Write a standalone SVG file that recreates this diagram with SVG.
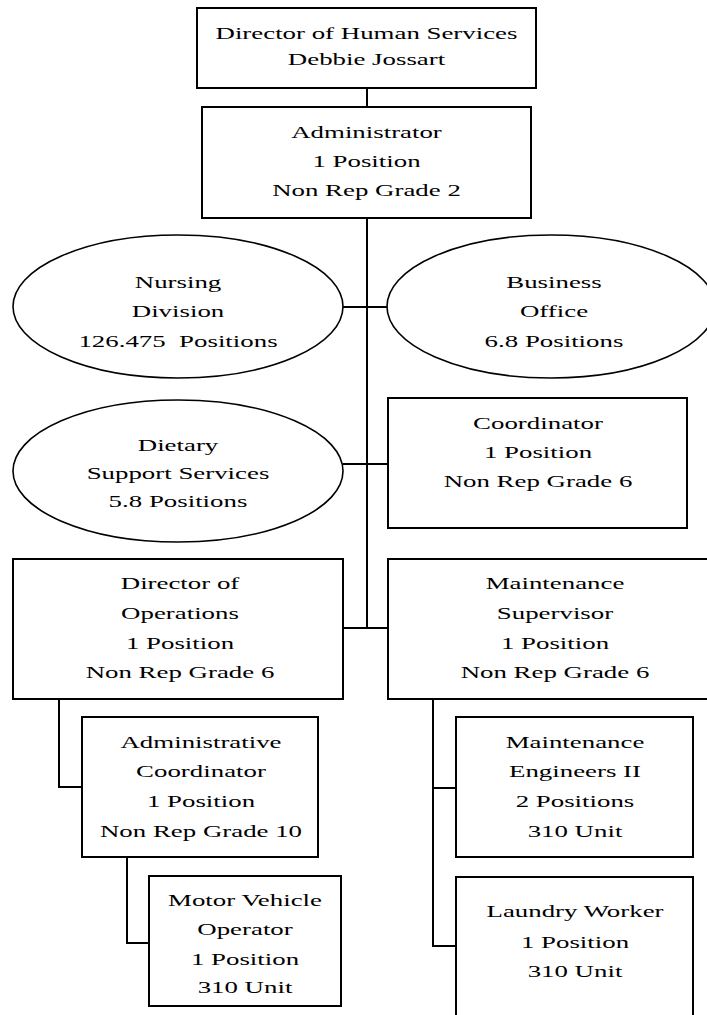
<svg xmlns="http://www.w3.org/2000/svg" width="707" height="1015" viewBox="0 0 707 1015">
  <style>
    .box { fill: #fff; stroke: #000; stroke-width: 2; }
    .oval { fill: #fff; stroke: #000; stroke-width: 1.6; }
    .wire { fill: none; stroke: #000; stroke-width: 2; }
    text { font-family: "Liberation Serif", "Times New Roman", serif; font-size: 17px; fill: #000; text-anchor: middle; }
  </style>
  <rect width="707" height="1015" fill="#fff"/>

  <!-- reporting lines -->
  <g id="connectors">
    <path class="wire" d="M367 88 V107"/>
    <path class="wire" d="M367 218 V628"/>
    <path class="wire" d="M343 307 H387"/>
    <path class="wire" d="M343 464 H388"/>
    <path class="wire" d="M343 628 H388"/>
    <path class="wire" d="M59 699 V787 H82"/>
    <path class="wire" d="M127 857 V943 H149"/>
    <path class="wire" d="M433 699 V946 H456 M433 788 H456"/>
  </g>

  <!-- text is drawn wide: each label block is scaled 1.58x horizontally about its centre -->
  <g id="director-human-services">
    <rect class="box" x="197" y="8" width="339" height="80"/>
    <text transform="matrix(1.58 0 0 1 366.5 0)"><tspan x="0" y="39">Director of Human Services</tspan><tspan x="0" y="65">Debbie Jossart</tspan></text>
  </g>

  <g id="administrator">
    <rect class="box" x="202" y="107" width="329" height="111"/>
    <text transform="matrix(1.58 0 0 1 366.5 0)"><tspan x="0" y="138">Administrator</tspan><tspan x="0" y="167">1 Position</tspan><tspan x="0" y="196">Non Rep Grade 2</tspan></text>
  </g>

  <g id="nursing-division">
    <ellipse class="oval" cx="178" cy="306.5" rx="165" ry="71.5"/>
    <text transform="matrix(1.58 0 0 1 178 0)" xml:space="preserve"><tspan x="0" y="288">Nursing</tspan><tspan x="0" y="317">Division</tspan><tspan x="0" y="347">126.475  Positions</tspan></text>
  </g>

  <g id="business-office">
    <ellipse class="oval" cx="551" cy="306.5" rx="164" ry="71.5"/>
    <text transform="matrix(1.58 0 0 1 554 0)"><tspan x="0" y="288">Business</tspan><tspan x="0" y="317">Office</tspan><tspan x="0" y="347">6.8 Positions</tspan></text>
  </g>

  <g id="dietary-support">
    <ellipse class="oval" cx="178" cy="471" rx="165" ry="71"/>
    <text transform="matrix(1.58 0 0 1 178 0)"><tspan x="0" y="451">Dietary</tspan><tspan x="0" y="479">Support Services</tspan><tspan x="0" y="507">5.8 Positions</tspan></text>
  </g>

  <g id="coordinator">
    <rect class="box" x="388" y="398" width="299" height="130"/>
    <text transform="matrix(1.58 0 0 1 538 0)"><tspan x="0" y="429">Coordinator</tspan><tspan x="0" y="458">1 Position</tspan><tspan x="0" y="487">Non Rep Grade 6</tspan></text>
  </g>

  <g id="director-operations">
    <rect class="box" x="13" y="559" width="330" height="140"/>
    <text transform="matrix(1.58 0 0 1 180 0)"><tspan x="0" y="589">Director of</tspan><tspan x="0" y="619">Operations</tspan><tspan x="0" y="649">1 Position</tspan><tspan x="0" y="678">Non Rep Grade 6</tspan></text>
  </g>

  <g id="maintenance-supervisor">
    <rect class="box" x="388" y="559" width="340" height="140"/>
    <text transform="matrix(1.58 0 0 1 555 0)"><tspan x="0" y="589">Maintenance</tspan><tspan x="0" y="619">Supervisor</tspan><tspan x="0" y="649">1 Position</tspan><tspan x="0" y="678">Non Rep Grade 6</tspan></text>
  </g>

  <g id="administrative-coordinator">
    <rect class="box" x="82" y="717" width="236" height="140"/>
    <text transform="matrix(1.58 0 0 1 201 0)"><tspan x="0" y="748">Administrative</tspan><tspan x="0" y="777">Coordinator</tspan><tspan x="0" y="807">1 Position</tspan><tspan x="0" y="837">Non Rep Grade 10</tspan></text>
  </g>

  <g id="maintenance-engineers">
    <rect class="box" x="456" y="717" width="237" height="140"/>
    <text transform="matrix(1.58 0 0 1 575 0)"><tspan x="0" y="748">Maintenance</tspan><tspan x="0" y="777">Engineers II</tspan><tspan x="0" y="807">2 Positions</tspan><tspan x="0" y="837">310 Unit</tspan></text>
  </g>

  <g id="motor-vehicle-operator">
    <rect class="box" x="149" y="876" width="192" height="130"/>
    <text transform="matrix(1.58 0 0 1 245 0)"><tspan x="0" y="906">Motor Vehicle</tspan><tspan x="0" y="935">Operator</tspan><tspan x="0" y="965">1 Position</tspan><tspan x="0" y="993">310 Unit</tspan></text>
  </g>

  <g id="laundry-worker">
    <rect class="box" x="456" y="877" width="237" height="150"/>
    <text transform="matrix(1.58 0 0 1 575 0)"><tspan x="0" y="917">Laundry Worker</tspan><tspan x="0" y="948">1 Position</tspan><tspan x="0" y="977">310 Unit</tspan></text>
  </g>
</svg>
